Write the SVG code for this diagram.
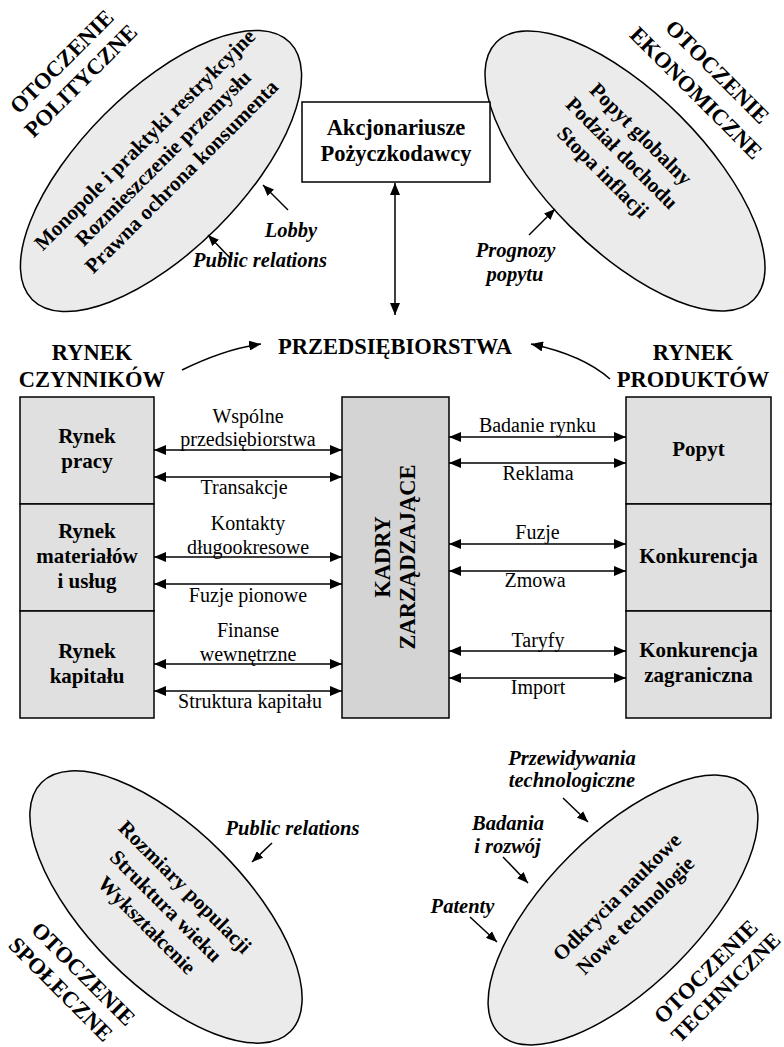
<svg xmlns="http://www.w3.org/2000/svg" width="784" height="1047" viewBox="0 0 784 1047">
<style>
text{font-family:"Liberation Serif","Times New Roman",serif;fill:#000}
.b{font-weight:bold;font-size:21px;text-anchor:middle}
.h{font-weight:bold;font-size:22.5px;text-anchor:middle}
.r{font-size:20px;text-anchor:middle}
.i{font-weight:bold;font-style:italic;font-size:20.5px;text-anchor:middle}
.e{font-weight:bold;font-size:21px;text-anchor:middle}
.box{fill:#e0e0e0;stroke:#000;stroke-width:1.5}
.ell{fill:#ebebeb;stroke:#000;stroke-width:1.5}
.ln{fill:none;stroke:#000;stroke-width:1.5}
.dbl{marker-start:url(#ah);marker-end:url(#ah)}
.one{marker-end:url(#ahs)}
</style>
<defs>
<marker id="ah" viewBox="0 0 12 10" refX="12" refY="5" markerWidth="12" markerHeight="10" markerUnits="userSpaceOnUse" orient="auto-start-reverse"><path d="M0,0 L12,5 L0,10 Z" fill="#000"/></marker>
<marker id="ahs" viewBox="0 0 11 9" refX="11" refY="4.5" markerWidth="11" markerHeight="9" markerUnits="userSpaceOnUse" orient="auto"><path d="M0,0 L11,4.5 L0,9 Z" fill="#000"/></marker>
</defs>
<rect width="784" height="1047" fill="#fff"/>

<g id="env-polityczne">
<ellipse class="ell" cx="0" cy="0" rx="182" ry="80" transform="translate(161,171) rotate(-45)"/>
<g transform="translate(168,163) rotate(-45)">
<text class="e" x="0" y="-26">Monopole i praktyki restrykcyjne</text>
<text class="e" x="0" y="0">Rozmieszczenie przemysłu</text>
<text class="e" x="0" y="26">Prawna ochrona konsumenta</text>
</g>
<g transform="translate(67,67) rotate(-45)">
<text class="h" x="0" y="0">OTOCZENIE</text>
<text class="h" x="0" y="27">POLITYCZNE</text>
</g>
</g>

<g id="env-ekonomiczne">
<ellipse class="ell" cx="0" cy="0" rx="182" ry="78" transform="translate(625,171) rotate(45)"/>
<g transform="translate(617,158) rotate(45)">
<text class="e" x="0" y="-27">Popyt globalny</text>
<text class="e" x="0" y="0">Podział dochodu</text>
<text class="e" x="0" y="27">Stopa inflacji</text>
</g>
<g transform="translate(712,77) rotate(45)">
<text class="h" x="0" y="0">OTOCZENIE</text>
<text class="h" x="0" y="30">EKONOMICZNE</text>
</g>
</g>

<g id="env-spoleczne">
<ellipse class="ell" cx="0" cy="0" rx="176" ry="78" transform="translate(166,907) rotate(45)"/>
<g transform="translate(161,911) rotate(45)">
<text class="e" x="0" y="-27">Rozmiary populacji</text>
<text class="e" x="0" y="0">Struktura wieku</text>
<text class="e" x="0" y="27">Wykształcenie</text>
</g>
<g transform="translate(78,979) rotate(45)">
<text class="h" x="0" y="0">OTOCZENIE</text>
<text class="h" x="-5" y="27">SPOŁECZNE</text>
</g>
</g>

<g id="env-techniczne">
<ellipse class="ell" cx="0" cy="0" rx="175" ry="76" transform="translate(623,910) rotate(-45)"/>
<g transform="translate(631,911) rotate(-45)">
<text class="e" x="0" y="-13">Odkrycia naukowe</text>
<text class="e" x="0" y="13">Nowe technologie</text>
</g>
<g transform="translate(711,977) rotate(-45)">
<text class="h" x="0" y="0">OTOCZENIE</text>
<text class="h" x="3" y="25" style="font-size:21.5px">TECHNICZNE</text>
</g>
</g>

<g id="akcjonariusze">
<rect x="302" y="102" width="188" height="80" fill="#fff" stroke="#000" stroke-width="1.5"/>
<text class="h" x="396" y="135">Akcjonariusze</text>
<text class="h" x="396" y="161">Pożyczkodawcy</text>
</g>

<g id="przedsiebiorstwa">
<text class="h" x="395" y="354">PRZEDSIĘBIORSTWA</text>
</g>
<g id="rynek-czynnikow">
<text class="h" x="92" y="360">RYNEK</text>
<text class="h" x="92" y="387">CZYNNIKÓW</text>
</g>
<g id="rynek-produktow">
<text class="h" x="693" y="360">RYNEK</text>
<text class="h" x="693" y="387">PRODUKTÓW</text>
</g>

<g id="rynek-pracy">
<rect class="box" x="20" y="397" width="134" height="107"/>
<text class="b" x="87" y="443">Rynek</text>
<text class="b" x="87" y="468">pracy</text>
</g>
<g id="rynek-materialow">
<rect class="box" x="20" y="504" width="134" height="107"/>
<text class="b" x="87" y="538">Rynek</text>
<text class="b" x="87" y="563">materiałów</text>
<text class="b" x="87" y="588">i usług</text>
</g>
<g id="rynek-kapitalu">
<rect class="box" x="20" y="611" width="134" height="107"/>
<text class="b" x="87" y="658">Rynek</text>
<text class="b" x="87" y="683">kapitału</text>
</g>

<g id="kadry">
<rect x="342" y="397" width="107" height="321" fill="#d4d4d4" stroke="#000" stroke-width="1.5"/>
<g transform="translate(396,557) rotate(-90)">
<text class="h" x="0" y="-6">KADRY</text>
<text class="h" x="0" y="19">ZARZĄDZAJĄCE</text>
</g>
</g>

<g id="popyt">
<rect class="box" x="626" y="397" width="145" height="107"/>
<text class="b" x="698.5" y="456">Popyt</text>
</g>
<g id="konkurencja">
<rect class="box" x="626" y="504" width="145" height="107"/>
<text class="b" x="698.5" y="563">Konkurencja</text>
</g>
<g id="konkurencja-zagraniczna">
<rect class="box" x="626" y="611" width="145" height="107"/>
<text class="b" x="698.5" y="657">Konkurencja</text>
<text class="b" x="698.5" y="682">zagraniczna</text>
</g>

<g id="connectors">
<line class="ln dbl" x1="395" y1="183" x2="395" y2="315"/>
<path class="ln" d="M182,370 Q225,349 261,344" marker-end="url(#ah)"/>
<path class="ln" d="M610,379 Q583,355 531,344" marker-end="url(#ah)"/>

<line class="ln dbl" x1="154" y1="450" x2="342" y2="450"/>
<line class="ln dbl" x1="154" y1="477" x2="342" y2="477"/>
<line class="ln dbl" x1="154" y1="557" x2="342" y2="557"/>
<line class="ln dbl" x1="154" y1="584" x2="342" y2="584"/>
<line class="ln dbl" x1="154" y1="664" x2="342" y2="664"/>
<line class="ln dbl" x1="154" y1="691" x2="342" y2="691"/>

<line class="ln dbl" x1="449" y1="437" x2="626" y2="437"/>
<line class="ln dbl" x1="449" y1="463" x2="626" y2="463"/>
<line class="ln dbl" x1="449" y1="544" x2="626" y2="544"/>
<line class="ln dbl" x1="449" y1="571" x2="626" y2="571"/>
<line class="ln dbl" x1="449" y1="651" x2="626" y2="651"/>
<line class="ln dbl" x1="449" y1="678" x2="626" y2="678"/>

<line class="ln one" x1="288" y1="210" x2="263" y2="185"/>
<line class="ln one" x1="232" y1="260" x2="208" y2="235"/>
<line class="ln one" x1="529" y1="235" x2="555" y2="209"/>
<line class="ln one" x1="272" y1="843" x2="252" y2="862"/>
<line class="ln one" x1="563" y1="798" x2="588" y2="822"/>
<line class="ln one" x1="503" y1="857" x2="528" y2="883"/>
<line class="ln one" x1="470" y1="917" x2="497" y2="942"/>

<text class="r" x="248" y="423">Wspólne</text>
<text class="r" x="248" y="446">przedsiębiorstwa</text>
<text class="r" x="244" y="494">Transakcje</text>
<text class="r" x="248" y="530">Kontakty</text>
<text class="r" x="248" y="554">długookresowe</text>
<text class="r" x="248" y="602">Fuzje pionowe</text>
<text class="r" x="248" y="637">Finanse</text>
<text class="r" x="248" y="661">wewnętrzne</text>
<text class="r" x="250" y="708">Struktura kapitału</text>

<text class="r" x="537.5" y="432">Badanie rynku</text>
<text class="r" x="538" y="480">Reklama</text>
<text class="r" x="537.5" y="539">Fuzje</text>
<text class="r" x="535" y="587">Zmowa</text>
<text class="r" x="538" y="647">Taryfy</text>
<text class="r" x="538" y="694">Import</text>

<text class="i" x="291" y="237">Lobby</text>
<text class="i" x="260" y="267">Public relations</text>
<text class="i" x="515.5" y="257">Prognozy</text>
<text class="i" x="515" y="281">popytu</text>
<text class="i" x="292.5" y="835">Public relations</text>
<text class="i" x="572" y="765">Przewidywania</text>
<text class="i" x="572" y="787">technologiczne</text>
<text class="i" x="508" y="830">Badania</text>
<text class="i" x="507.5" y="853">i rozwój</text>
<text class="i" x="462.5" y="913">Patenty</text>
</g>
</svg>
